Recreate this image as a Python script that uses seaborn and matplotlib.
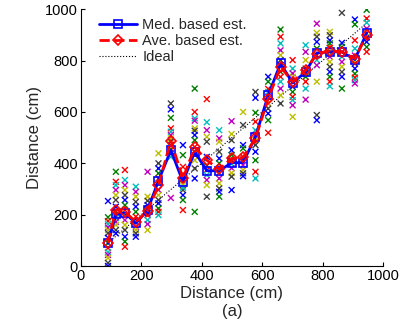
import matplotlib
matplotlib.use("Agg")
import matplotlib.pyplot as plt
import seaborn as sns
import pandas as pd
import numpy as np

# ---- data -------------------------------------------------------------
distances = [90, 116, 146, 182, 221, 257, 298, 338, 377, 417, 458, 499,
             537, 578, 620, 661, 701, 744, 781, 824, 864, 907, 946]

med_est = [88, 201, 207, 166, 218, 332, 451, 328, 445, 371, 371, 402,
           403, 503, 665, 789, 713, 756, 830, 834, 834, 804, 908]

ave_est = [90, 220, 211, 172, 215, 314, 488, 341, 462, 412, 376, 419,
           423, 497, 652, 776, 717, 763, 827, 838, 834, 808, 899]

trials = [
    [253, 190, 175, 163, 150, 140, 128, 110, 90, 70, 54, 43, 31, 12, 0],
    [367, 328, 315, 296, 276, 257, 231, 211, 198, 187, 172, 160, 140, 127],
    [374, 335, 315, 296, 276, 257, 237, 218, 198, 179, 160, 140, 114, 95, 75],
    [309, 289, 270, 250, 231, 211, 192, 172, 153, 140, 127, 114],
    [367, 270, 254, 237, 218, 198, 179, 163, 140, 225, 205],
    [439, 400, 380, 361, 341, 322, 296, 276, 257, 244, 224, 211, 198],
    [633, 610, 577, 536, 523, 510, 497, 485, 470, 455, 440, 425, 265],
    [471, 432, 386, 354, 335, 315, 296, 276, 257, 218, 305],
    [691, 600, 575, 566, 536, 527, 510, 490, 464, 445, 432, 412, 380, 341, 211],
    [650, 560, 529, 503, 484, 425, 390, 374, 354, 335, 315, 270],
    [529, 497, 484, 445, 419, 400, 380, 361, 341, 322, 302, 289, 270],
    [564, 514, 490, 451, 432, 412, 397, 381, 362, 348, 296],
    [600, 549, 471, 458, 425, 412, 393, 374, 361, 350],
    [678, 655, 597, 562, 529, 510, 490, 471, 445, 412, 367, 341],
    [737, 718, 690, 678, 659, 633, 613, 594, 568, 519],
    [921, 893, 867, 840, 821, 802, 782, 756, 737, 718, 691, 665, 633],
    [802, 769, 750, 737, 718, 698, 678, 659, 646, 626, 581],
    [860, 834, 802, 769, 750, 737, 718, 691, 648],
    [944, 908, 893, 873, 847, 821, 802, 782, 718, 588, 568],
    [912, 899, 879, 867, 850, 834, 815, 795, 776, 756, 737, 718, 700],
    [986, 869, 853, 834, 815, 795, 776, 756, 737, 691],
    [960, 941, 879, 847, 820, 800, 788, 769, 749, 734, 724, 711],
    [998, 964, 948, 925, 905, 890, 873, 853, 834],
]

x_ticks = [0, 200, 400, 600, 800, 1000]
y_ticks = [0, 200, 400, 600, 800, 1000]

matlab_colors = ["#0000ff", "#008000", "#ff0000", "#00bfbf",
                 "#bf00bf", "#bfbf00", "#404040"]

# ---- build tables -----------------------------------------------------
rows = []
for ci, (d, vals) in enumerate(zip(distances, trials)):
    for k, v in enumerate(vals):
        rows.append({"dist": d, "est": v, "trial": (k + ci) % 7})
scatter_df = pd.DataFrame(rows)

line_df = pd.DataFrame({"dist": distances, "med": med_est, "ave": ave_est,
                        "ideal": distances})

# ---- figure -----------------------------------------------------------
sns.set_theme(style="ticks")
plt.rcParams["font.family"] = ["Liberation Sans", "DejaVu Sans"]

fig = plt.figure(figsize=(4.04, 3.25), dpi=100)
ax = fig.add_axes([0.200, 0.1815, 0.748, 0.790])

sns.scatterplot(data=scatter_df, x="dist", y="est", hue="trial",
                palette=matlab_colors, marker="x", s=18, linewidth=1.0,
                legend=False, ax=ax, zorder=2)

sns.lineplot(data=line_df, x="dist", y="med", ax=ax, color="#0000ff",
             linewidth=2.0, marker="s", markersize=6,
             markerfacecolor="none", markeredgecolor="#0000ff",
             markeredgewidth=1.2, label="Med. based est.", zorder=3)
sns.lineplot(data=line_df, x="dist", y="ave", ax=ax, color="#ff0000",
             linewidth=2.0, linestyle="--", dashes=(3, 2), marker="D",
             markersize=5, markerfacecolor="none",
             markeredgecolor="#ff0000", markeredgewidth=1.2,
             label="Ave. based est.", zorder=4)
sns.lineplot(data=line_df, x="dist", y="ideal", ax=ax, color="black",
             linewidth=0.8, linestyle=":", label="Ideal", zorder=1)

ax.set_xlim(0, 1000)
ax.set_ylim(0, 1000)
ax.set_xticks(x_ticks)
ax.set_yticks(y_ticks)
ax.tick_params(direction="in", length=3, width=0.8, labelsize=10.5,
               pad=2, colors="black")
for side in ["top", "right"]:
    ax.spines[side].set_visible(False)
for side in ["left", "bottom"]:
    ax.spines[side].set_linewidth(0.8)
    ax.spines[side].set_color("black")

ax.set_xlabel("Distance (cm)\n(a)", fontsize=12, labelpad=2,
              linespacing=1.3)
ax.set_ylabel("Distance (cm)", fontsize=12, labelpad=2)

leg = ax.legend(loc="upper left", bbox_to_anchor=(0.03, 1.0), frameon=False,
                fontsize=10.5, handlelength=2.6, handletextpad=0.4,
                labelspacing=0.15, borderaxespad=0.2)

fig.savefig("out.png", dpi=100)
